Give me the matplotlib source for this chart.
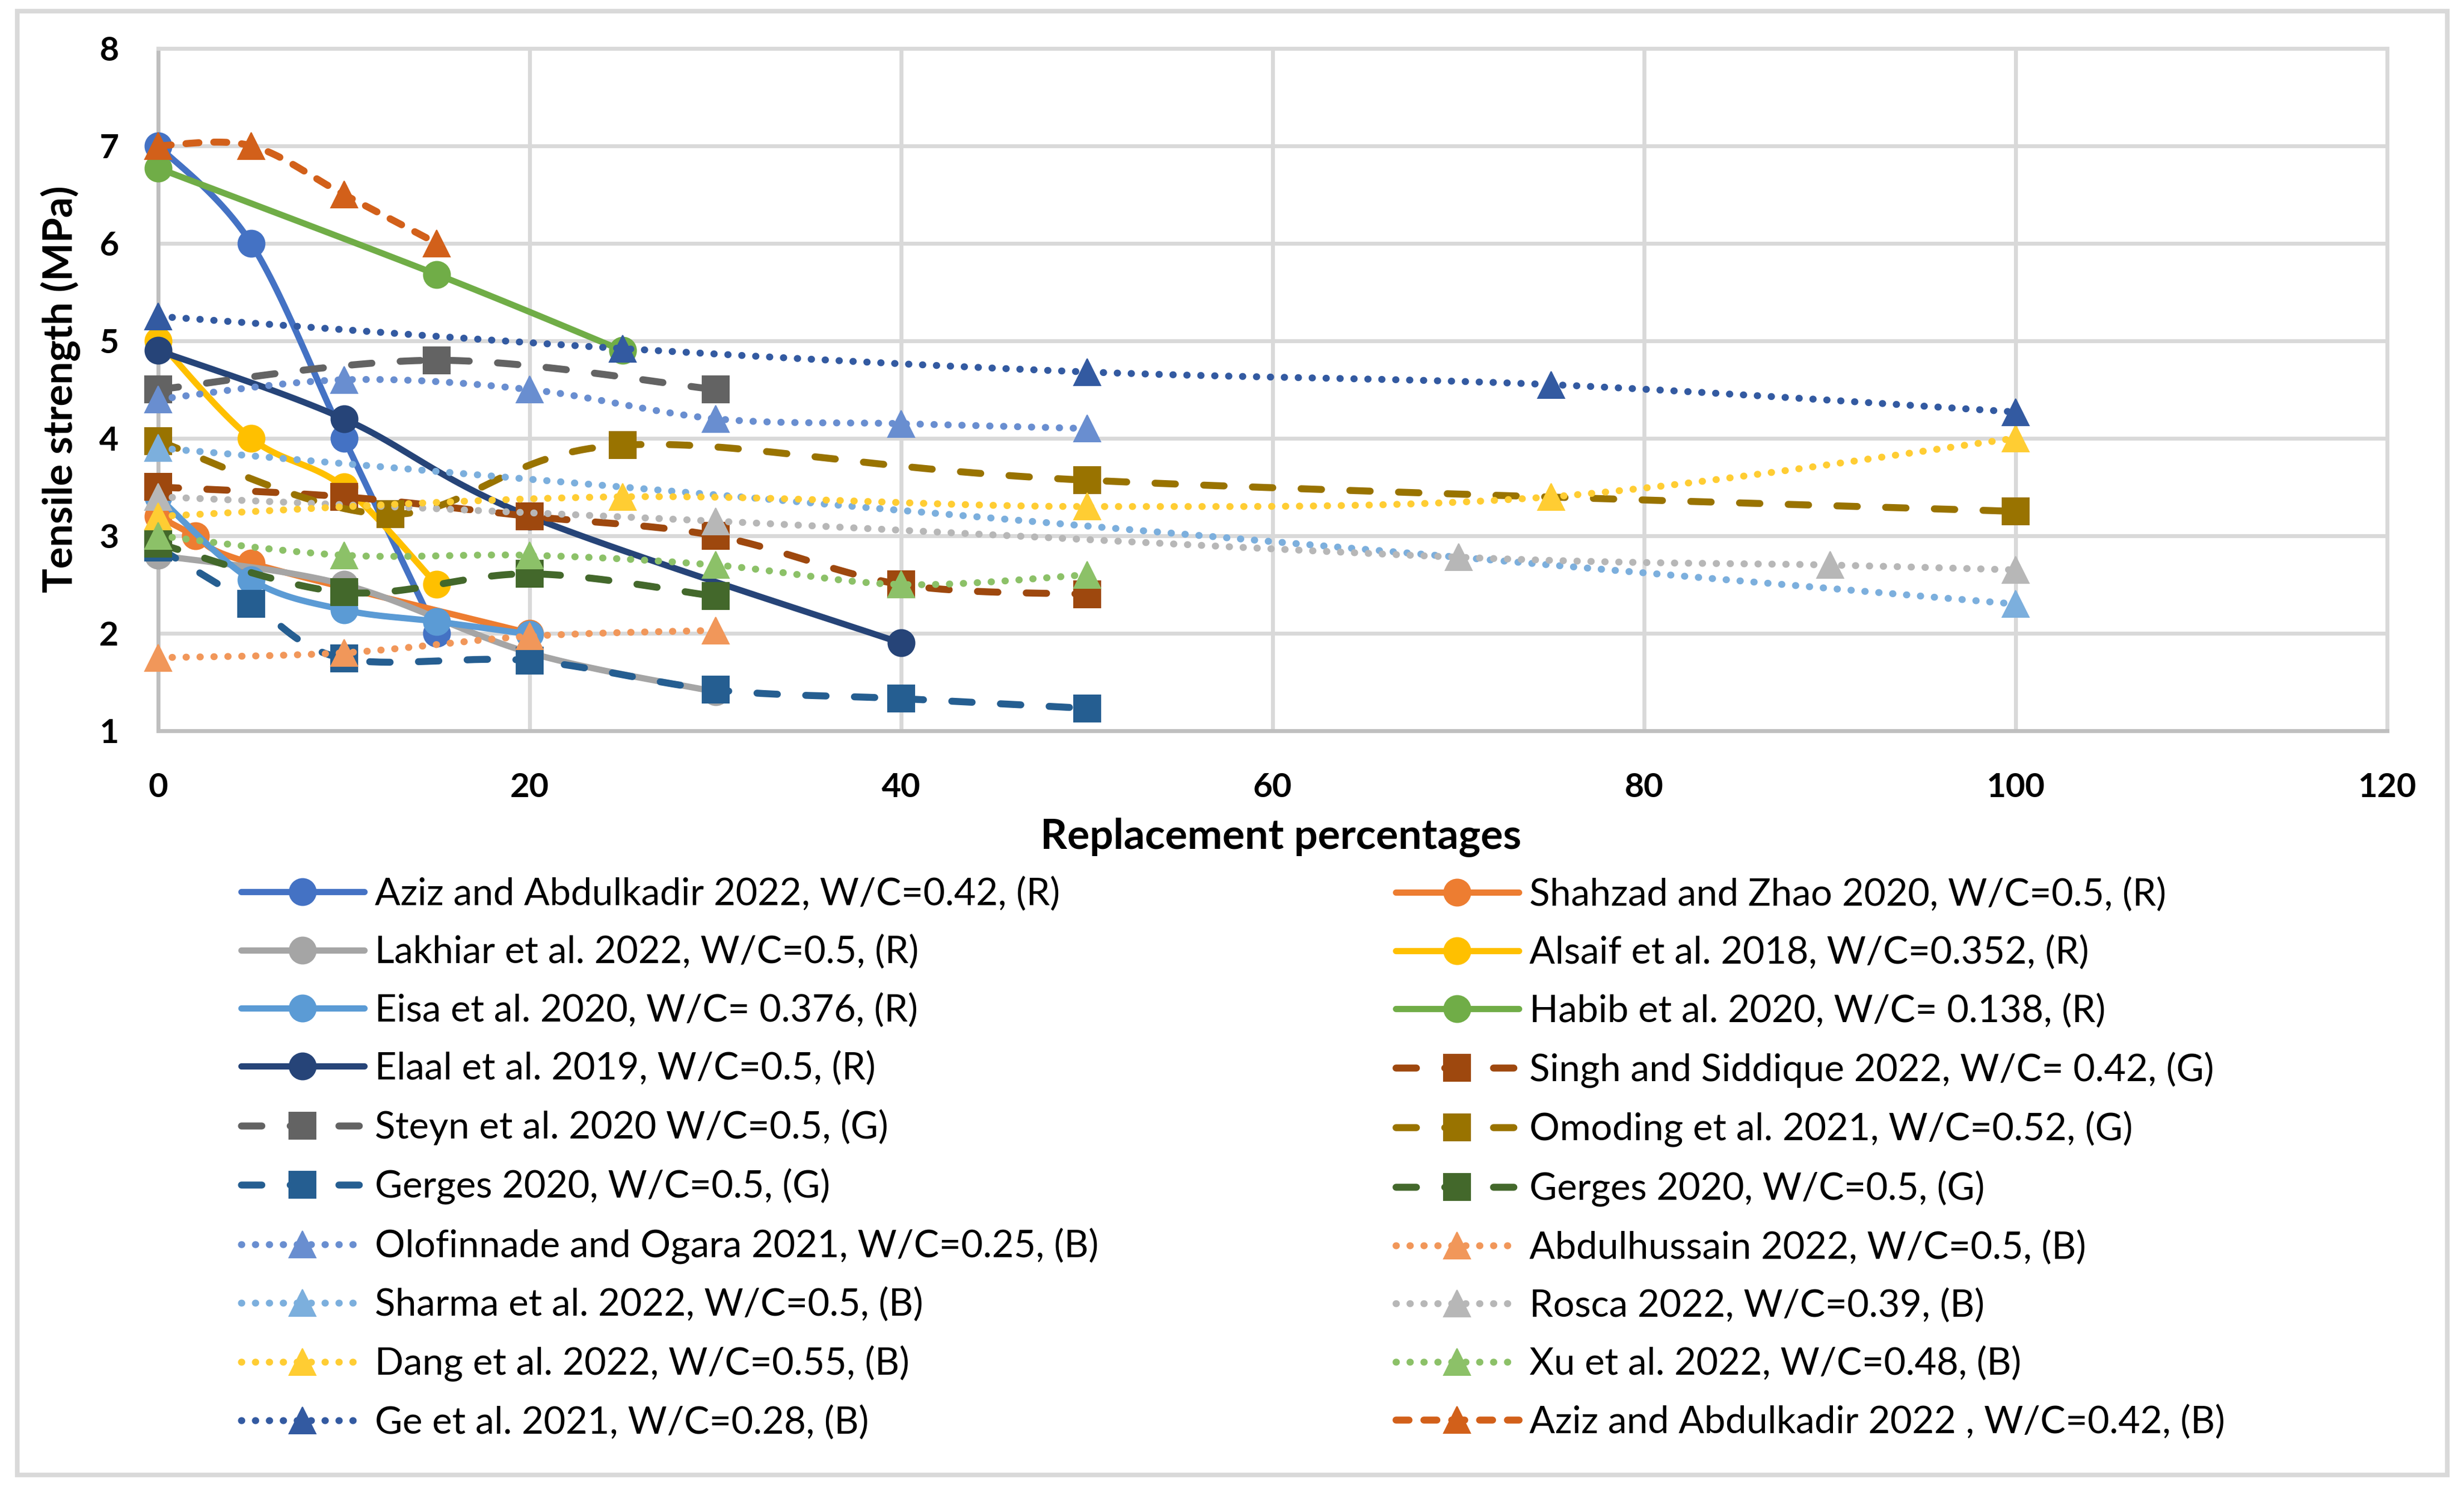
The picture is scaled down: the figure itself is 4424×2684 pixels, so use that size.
import numpy as np
import matplotlib
matplotlib.use("Agg")
import matplotlib.pyplot as plt
from matplotlib.lines import Line2D
from matplotlib.patches import Rectangle

plt.rcParams['font.family'] = ['Lato', 'DejaVu Sans']

# ---- data ----
aziz_r_x = [0, 5, 10, 15]
aziz_r_y = [7.0, 6.0, 4.0, 2.0]
shahzad_x = [0, 2, 5, 20]
shahzad_y = [3.2, 3.0, 2.72, 2.0]
lakhiar_x = [0, 10, 20, 30]
lakhiar_y = [2.8, 2.5, 1.8, 1.4]
alsaif_x = [0, 5, 10, 15]
alsaif_y = [5.0, 4.0, 3.5, 2.5]
eisa_x = [0, 5, 10, 15, 20]
eisa_y = [3.4, 2.55, 2.24, 2.12, 1.99]
habib_x = [0, 15, 25]
habib_y = [6.77, 5.68, 4.9]
elaal_x = [0, 10, 20, 40]
elaal_y = [4.9, 4.2, 3.2, 1.9]
singh_x = [0, 10, 20, 30, 40, 50]
singh_y = [3.5, 3.4, 3.2, 3.0, 2.5, 2.4]
steyn_x = [0, 15, 30]
steyn_y = [4.5, 4.8, 4.5]
omoding_x = [0, 12.5, 25, 50, 100]
omoding_y = [3.97, 3.22, 3.93, 3.57, 3.25]
gerges_g1_x = [0, 5, 10, 20, 30, 40, 50]
gerges_g1_y = [2.88, 2.3, 1.74, 1.72, 1.42, 1.33, 1.23]
gerges_g2_x = [0, 10, 20, 30]
gerges_g2_y = [2.92, 2.42, 2.61, 2.38]
olofinnade_x = [0, 10, 20, 30, 40, 50]
olofinnade_y = [4.4, 4.6, 4.5, 4.2, 4.15, 4.1]
abdulhussain_x = [0, 10, 20, 30]
abdulhussain_y = [1.75, 1.8, 1.97, 2.03]
sharma_x = [0, 100]
sharma_y = [3.9, 2.3]
rosca_x = [0, 30, 70, 90, 100]
rosca_y = [3.4, 3.15, 2.78, 2.7, 2.65]
dang_x = [0, 25, 50, 75, 100]
dang_y = [3.2, 3.4, 3.3, 3.4, 4.0]
xu_x = [0, 10, 20, 30, 40, 50]
xu_y = [3.0, 2.8, 2.8, 2.7, 2.5, 2.6]
ge_x = [0, 25, 50, 75, 100]
ge_y = [5.25, 4.92, 4.68, 4.55, 4.27]
aziz_b_x = [0, 5, 10, 15]
aziz_b_y = [7.0, 7.0, 6.5, 6.0]

labels = [
    "Aziz and Abdulkadir 2022, W/C=0.42, (R)",
    "Shahzad and Zhao 2020, W/C=0.5, (R)",
    "Lakhiar et al. 2022, W/C=0.5, (R)",
    "Alsaif et al. 2018, W/C=0.352, (R)",
    "Eisa et al. 2020, W/C= 0.376, (R)",
    "Habib et al. 2020, W/C= 0.138, (R)",
    "Elaal et al. 2019, W/C=0.5, (R)",
    "Singh and Siddique 2022, W/C= 0.42, (G)",
    "Steyn et al. 2020 W/C=0.5, (G)",
    "Omoding et al. 2021, W/C=0.52, (G)",
    "Gerges 2020, W/C=0.5, (G)",
    "Gerges 2020, W/C=0.5, (G)",
    "Olofinnade and Ogara 2021, W/C=0.25, (B)",
    "Abdulhussain 2022, W/C=0.5, (B)",
    "Sharma et al. 2022, W/C=0.5, (B)",
    "Rosca 2022, W/C=0.39, (B)",
    "Dang et al. 2022, W/C=0.55, (B)",
    "Xu et al. 2022, W/C=0.48, (B)",
    "Ge et al. 2021, W/C=0.28, (B)",
    "Aziz and Abdulkadir 2022 , W/C=0.42, (B)",
]
series = [
    (aziz_r_x, aziz_r_y), (shahzad_x, shahzad_y), (lakhiar_x, lakhiar_y),
    (alsaif_x, alsaif_y), (eisa_x, eisa_y), (habib_x, habib_y),
    (elaal_x, elaal_y), (singh_x, singh_y), (steyn_x, steyn_y),
    (omoding_x, omoding_y), (gerges_g1_x, gerges_g1_y), (gerges_g2_x, gerges_g2_y),
    (olofinnade_x, olofinnade_y), (abdulhussain_x, abdulhussain_y),
    (sharma_x, sharma_y), (rosca_x, rosca_y), (dang_x, dang_y),
    (xu_x, xu_y), (ge_x, ge_y), (aziz_b_x, aziz_b_y),
]

# ---- styles ----
colors = ['#4472C4', '#ED7D31', '#A5A5A5', '#FFC000', '#5B9BD5', '#70AD47',
          '#264478', '#9E480E', '#636363', '#997300', '#255E91', '#43682B',
          '#698ED0', '#F1975A', '#7CAFDD', '#B7B7B7', '#FFCD33', '#8CC168',
          '#335AA1', '#D2601A']
kinds = ['solid'] * 7 + ['dash'] * 5 + ['dot'] * 7 + ['sysdash']
markers = ['o'] * 7 + ['s'] * 5 + ['^'] * 8
styles = {
    'solid': ('-', 2.7),
    'dash': ((0, (2.93, 4.07)), 3.0),
    'dot': ((0, (0.05, 1.95)), 3.0),
    'sysdash': ((0, (1.87, 2.13)), 3.0),
}
MS = 11.5


def smooth(x, y, n=40):
    # Excel-like smoothed line (Catmull-Rom as cubic Bezier)
    pts = np.column_stack([x, y]).astype(float)
    if len(pts) < 3:
        return pts[:, 0], pts[:, 1]
    out = []
    t = np.linspace(0, 1, n)[:, None]
    for i in range(len(pts) - 1):
        p0 = pts[max(i - 1, 0)]
        p1 = pts[i]
        p2 = pts[i + 1]
        p3 = pts[min(i + 2, len(pts) - 1)]
        c1 = p1 + (p2 - p0) / 6
        c2 = p2 - (p3 - p1) / 6
        seg = (1 - t) ** 3 * p1 + 3 * (1 - t) ** 2 * t * c1 + 3 * (1 - t) * t ** 2 * c2 + t ** 3 * p2
        out.append(seg if i == 0 else seg[1:])
    s = np.vstack(out)
    return s[:, 0], s[:, 1]


W, H = 4424, 2684
fig = plt.figure(figsize=(W / 300, H / 300), dpi=300)
ax = fig.add_axes([284 / W, 1 - 1312 / H, (4286 - 284) / W, (1312 - 86.6) / H])

handles = []
for i, (xs, ys) in enumerate(series):
    ls, lw = styles[kinds[i]]
    c = colors[i]
    sx, sy = smooth(xs, ys)
    ax.plot(sx, sy, color=c, lw=lw, ls=ls, dash_capstyle='round',
            solid_capstyle='round', zorder=3 + i, clip_on=False)
    ax.plot(xs, ys, ls='none', marker=markers[i], ms=MS, color=c, mec=c,
            mew=0.5, zorder=3 + i, clip_on=False)
    handles.append(Line2D([], [], color=c, lw=lw, ls=ls, marker=markers[i], ms=MS,
                          mec=c, mew=0.5, dash_capstyle='round', solid_capstyle='round'))

ax.set_xlim(0, 120)
ax.set_ylim(1, 8)
ax.set_xticks(range(0, 121, 20))
ax.set_yticks(range(1, 9))
ax.grid(color='#D9D9D9', lw=1.7)
ax.set_axisbelow(True)
for side in ['left', 'bottom']:
    ax.spines[side].set_color('#BFBFBF')
    ax.spines[side].set_linewidth(1.7)
for side in ['top', 'right']:
    ax.spines[side].set_color('#D9D9D9')
    ax.spines[side].set_linewidth(1.7)
ax.tick_params(axis='both', length=0, labelsize=14.5)
ax.tick_params(axis='y', pad=17)
ax.tick_params(axis='x', pad=18)
plt.setp(ax.get_xticklabels() + ax.get_yticklabels(), fontweight='bold')

fig.text(2300 / W, 1 - 1524 / H, "Replacement percentages", ha='center', va='baseline',
         fontsize=18, fontweight='bold')
fig.text(109 / W, 1 - 699 / H, "Tensile strength (MPa)", ha='center', va='center',
         rotation=90, fontsize=17.5, fontweight='bold')

leg_kw = dict(loc='center left', frameon=False, fontsize=16.3, handlelength=3.25,
              handletextpad=0.29, borderpad=0, borderaxespad=0, labelspacing=0.613,
              numpoints=1)
ymid = 1 - 2080 / H
fig.legend(handles[0::2], labels[0::2], bbox_to_anchor=(433 / W, ymid), **leg_kw)
fig.legend(handles[1::2], labels[1::2], bbox_to_anchor=(2506 / W, ymid), **leg_kw)

fig.add_artist(Rectangle((31 / W, 1 - 2648 / H), (4394 - 31) / W, (2648 - 20) / H,
                         transform=fig.transFigure, fill=False, ec='#D9D9D9', lw=2))

plt.savefig('out.png', dpi=300)
plt.close()
